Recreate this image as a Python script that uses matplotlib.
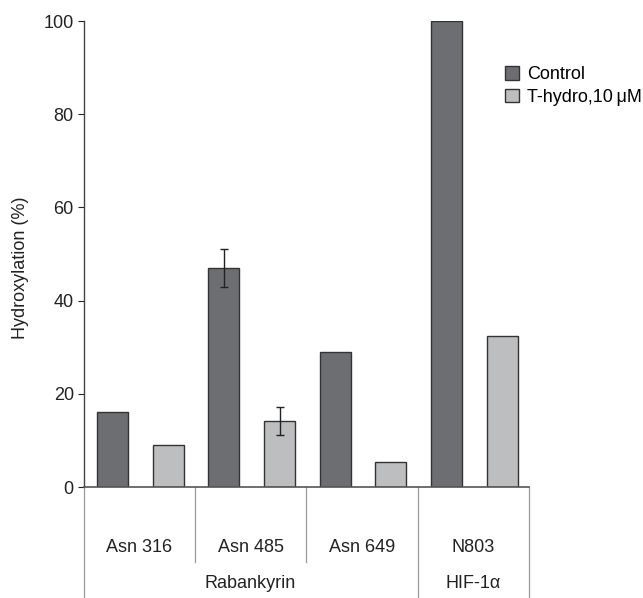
import matplotlib
matplotlib.use("Agg")
import matplotlib.pyplot as plt
import matplotlib.transforms as mtransforms
from matplotlib.patches import Patch

plt.rcParams['font.family'] = ['Liberation Sans', 'DejaVu Sans']

sites = ["Asn 316", "Asn 485", "Asn 649", "N803"]
proteins = ["Rabankyrin", "HIF-1\u03b1"]
protein_spans = [(0, 3), (3, 4)]
control = [16, 47, 29, 100]
control_err = [0, 4, 0, 0]
thydro = [9, 14.2, 5.4, 32.5]
thydro_err = [0, 3, 0, 0]
yticks = [0, 20, 40, 60, 80, 100]
series_labels = ["Control", "T-hydro,10\u2009\u03bcM"]

c_dark = "#6d6e71"
c_light = "#bcbec0"
edge = "#333333"
fs = 13

fig = plt.figure(figsize=(6.43, 5.98), dpi=100)
ax = fig.add_axes([83.5/643, 1-487/598, (529-83.5)/643, 466/598])

x = list(range(len(sites)))
w = 0.28
xc = [i + 0.26 for i in x]
xt = [i + 0.76 for i in x]
ax.bar(xc, control, width=w, color=c_dark, edgecolor=edge, linewidth=1.0, zorder=2)
ax.bar(xt, thydro, width=w, color=c_light, edgecolor=edge, linewidth=1.0, zorder=2)
for xi, v, e in zip(xc, control, control_err):
    if e:
        ax.errorbar(xi, v, yerr=e, fmt='none', ecolor='#222222', elinewidth=1.0, capsize=3, capthick=1.0, zorder=3)
for xi, v, e in zip(xt, thydro, thydro_err):
    if e:
        ax.errorbar(xi, v, yerr=e, fmt='none', ecolor='#222222', elinewidth=1.0, capsize=3, capthick=1.0, zorder=3)

ax.set_xlim(0, len(sites))
ax.set_ylim(0, 100)
ax.set_yticks(yticks)
ax.tick_params(axis='y', direction='out', length=4, width=0.8, labelsize=fs, colors='#222222', pad=3)
ax.set_xticks([])
for s in ['top', 'right']:
    ax.spines[s].set_visible(False)
ax.spines['left'].set_color('#444444')
ax.spines['bottom'].set_color('#555555')
ax.spines['left'].set_linewidth(1.0)
ax.spines['bottom'].set_linewidth(1.2)
ax.set_ylabel("Hydroxylation (%)", fontsize=fs, color='#222222')
ax.yaxis.set_label_coords(-0.122, 0.47)

trans = mtransforms.blended_transform_factory(ax.transData, ax.transAxes)
long_bottom = -(598-487)/466
short_bottom = -(562-487)/466
boundaries_long = [0] + [b for s, b in protein_spans]
for b in boundaries_long:
    ax.plot([b, b], [0, long_bottom], transform=trans, color='#9a9a9a', lw=0.9, clip_on=False)
for b in range(1, len(sites)):
    if b not in boundaries_long:
        ax.plot([b, b], [0, short_bottom], transform=trans, color='#9a9a9a', lw=0.9, clip_on=False)
for i, s in enumerate(sites):
    ax.text(i + 0.5, -(547-487)/466, s, transform=trans, ha='center', va='center', fontsize=fs, color='#222222')
for (a, b), p in zip(protein_spans, proteins):
    ax.text((a + b)/2, -(583-487)/466, p, transform=trans, ha='center', va='center', fontsize=fs, color='#222222')

handles = [Patch(facecolor=c_dark, edgecolor=edge, linewidth=1.0),
           Patch(facecolor=c_light, edgecolor=edge, linewidth=1.0)]
fig.legend(handles, series_labels, loc='upper left', bbox_to_anchor=(505/643, 1-66/598),
           frameon=False, fontsize=fs, handlelength=0.8, handleheight=0.8, handletextpad=0.4,
           labelspacing=0.3, borderpad=0, borderaxespad=0)

fig.savefig("out.png", dpi=100)
